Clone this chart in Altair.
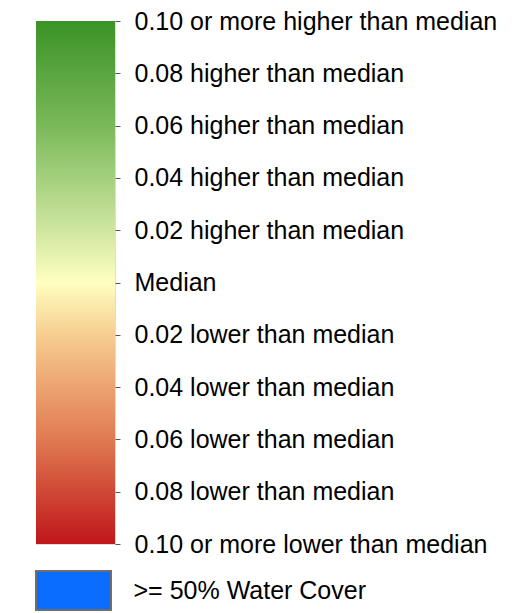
import json
import altair as alt
import pandas as pd

# --- data ---
tick_values = [-0.10, -0.08, -0.06, -0.04, -0.02, 0.00, 0.02, 0.04, 0.06, 0.08, 0.10]
tick_labels = [
    "0.10 or more lower than median",
    "0.08 lower than median",
    "0.06 lower than median",
    "0.04 lower than median",
    "0.02 lower than median",
    "Median",
    "0.02 higher than median",
    "0.04 higher than median",
    "0.06 higher than median",
    "0.08 higher than median",
    "0.10 or more higher than median",
]
range_low = [-0.10]
range_high = [0.10]
water_category = [">= 50% Water Cover"]

FONT = "Liberation Sans"
FS = 25

grad_df = pd.DataFrame({"x0": [0], "x1": [1], "lo": range_low, "hi": range_high})
water_df = pd.DataFrame({"x0": [0], "x1": [1], "cat": water_category})

label_expr = (
    json.dumps(tick_labels)
    + "[round((datum.value + 0.1) / 0.02)]"
)

gradient = alt.Gradient(
    gradient="linear",
    x1=0, x2=0, y1=0, y2=1,
    stops=[
        alt.GradientStop(offset=0.0, color="#3a9226"),
        alt.GradientStop(offset=0.2, color="#7ab95a"),
        alt.GradientStop(offset=0.4, color="#cfe6a0"),
        alt.GradientStop(offset=0.5, color="#ffffc0"),
        alt.GradientStop(offset=0.6, color="#f7cd90"),
        alt.GradientStop(offset=0.8, color="#e07a52"),
        alt.GradientStop(offset=1.0, color="#bf161a"),
    ],
)

bar = alt.Chart(grad_df).mark_rect(color=gradient).encode(
    x=alt.X("x0:Q", scale=alt.Scale(domain=[0, 1], nice=False), axis=None),
    x2="x1:Q",
    y=alt.Y(
        "lo:Q",
        scale=alt.Scale(domain=[-0.10, 0.10], nice=False, zero=False),
        axis=alt.Axis(
            orient="right",
            values=tick_values,
            labelExpr=label_expr,
            title=None,
            domain=False,
            grid=False,
            ticks=True,
            tickSize=5,
            tickColor="#555555",
            tickWidth=1,
            labelPadding=14,
            labelFontSize=FS,
            labelFont=FONT,
            labelColor="#000000",
            labelBaseline="middle",
            labelOverlap=False,
            labelBound=False,
            labelFlush=False,
            labelLimit=0,
        ),
    ),
    y2="hi:Q",
).properties(width=79, height=523)

water = alt.Chart(water_df).mark_rect(
    color="#0a6dff", stroke="#6e6e6e", strokeWidth=2
).encode(
    x=alt.X("x0:Q", scale=alt.Scale(domain=[0, 1], nice=False), axis=None),
    x2="x1:Q",
    y=alt.Y(
        "cat:N",
        scale=alt.Scale(paddingInner=0, paddingOuter=0),
        axis=alt.Axis(
            orient="right",
            title=None,
            domain=False,
            grid=False,
            ticks=False,
            labelPadding=22,
            labelFontSize=FS,
            labelFont=FONT,
            labelColor="#000000",
            labelLimit=0,
        ),
    ),
).properties(width=75, height=39)

chart = (
    alt.vconcat(bar, water, spacing=27, bounds="flush")
    .resolve_scale(x="independent", y="independent")
    .properties(padding={"left": 26, "top": 0, "right": 0, "bottom": 0})
    .configure_view(stroke=None)
    .configure(background="white")
)

chart.save("out.html", embed_options={"renderer": "svg", "actions": False})
